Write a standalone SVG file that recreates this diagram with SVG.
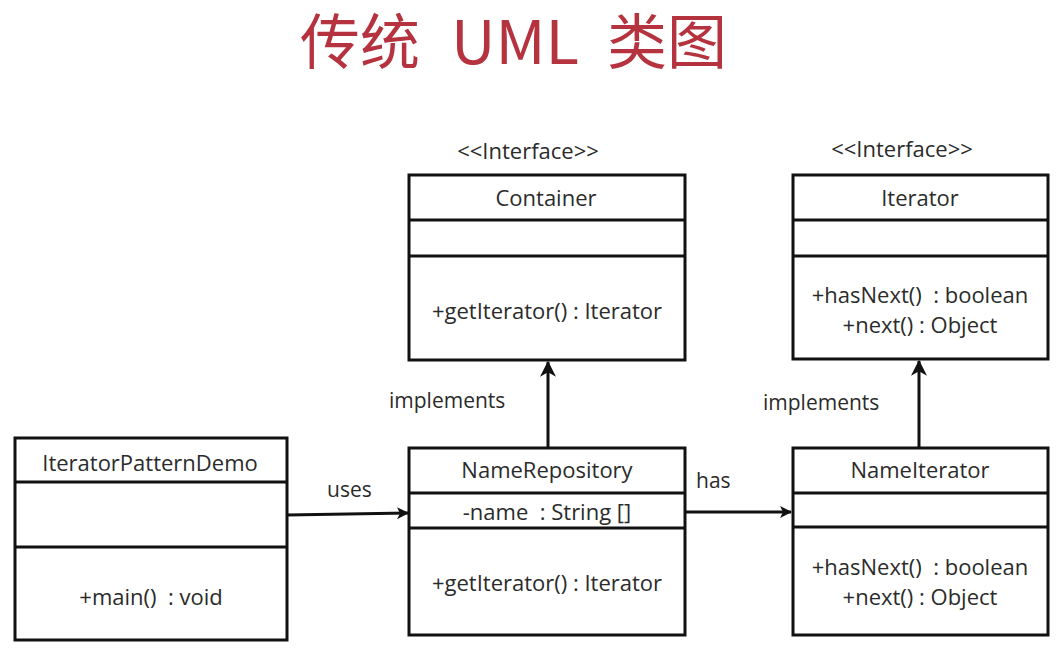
<svg xmlns="http://www.w3.org/2000/svg" width="1059" height="650" viewBox="0 0 1059 650">
<defs>
<style>
.box{fill:#fff;stroke:#111;stroke-width:3}
.div{stroke:#111;stroke-width:3}
.t{font-family:"Open Sans","Noto Sans",sans-serif;font-size:22px;fill:#2b2b2b;text-anchor:middle;white-space:pre}
.lbl{font-family:"Open Sans","Noto Sans",sans-serif;font-size:21px;fill:#2b2b2b}
.edge{stroke:#111;stroke-width:3;fill:none}
.title{font-family:"Noto Sans CJK SC","Noto Sans",sans-serif;font-size:60px;fill:#b5323f}
</style>
<marker id="arr" viewBox="0 0 12 12" refX="11" refY="6" markerWidth="12" markerHeight="12" markerUnits="userSpaceOnUse" orient="auto">
<path d="M0,0 L12,6 L0,12 L3,6 Z" fill="#111"/>
</marker>
<marker id="arrv" viewBox="0 0 14 14" refX="13" refY="7" markerWidth="16" markerHeight="16" markerUnits="userSpaceOnUse" orient="auto">
<path d="M0,0 L14,7 L0,14 L4,7 Z" fill="#111"/>
</marker>
</defs>
<rect width="1059" height="650" fill="#fff"/>
<g id="title">
<text class="title" x="300" y="64">传统</text>
<text class="title" x="451" y="64" textLength="128" lengthAdjust="spacingAndGlyphs">UML</text>
<text class="title" x="607" y="64">类图</text>
</g>

<g id="container">
<text class="t" x="528" y="159">&lt;&lt;Interface&gt;&gt;</text>
<rect class="box" x="409" y="175" width="276" height="185"/>
<line class="div" x1="409" y1="220" x2="685" y2="220"/>
<line class="div" x1="409" y1="256" x2="685" y2="256"/>
<text class="t" x="546" y="206">Container</text>
<text class="t" x="547" y="319">+getIterator() : Iterator</text>
</g>

<g id="iterator">
<text class="t" x="902" y="157">&lt;&lt;Interface&gt;&gt;</text>
<rect class="box" x="793" y="175" width="255" height="184"/>
<line class="div" x1="793" y1="220" x2="1048" y2="220"/>
<line class="div" x1="793" y1="256" x2="1048" y2="256"/>
<text class="t" x="920" y="206">Iterator</text>
<text class="t" x="920" y="303" xml:space="preserve">+hasNext()  : boolean</text>
<text class="t" x="920" y="333">+next() : Object</text>
</g>

<g id="iteratorPatternDemo">
<rect class="box" x="15" y="438" width="272" height="202"/>
<line class="div" x1="15" y1="482" x2="287" y2="482"/>
<line class="div" x1="15" y1="547" x2="287" y2="547"/>
<text class="t" x="150" y="471">IteratorPatternDemo</text>
<text class="t" x="151" y="605" xml:space="preserve">+main()  : void</text>
</g>

<g id="nameRepository">
<rect class="box" x="409" y="448" width="276" height="187"/>
<line class="div" x1="409" y1="493" x2="685" y2="493"/>
<line class="div" x1="409" y1="528" x2="685" y2="528"/>
<text class="t" x="547" y="478">NameRepository</text>
<text class="t" x="547" y="520" xml:space="preserve">-name  : String []</text>
<text class="t" x="547" y="591">+getIterator() : Iterator</text>
</g>

<g id="nameIterator">
<rect class="box" x="793" y="448" width="255" height="187"/>
<line class="div" x1="793" y1="493" x2="1048" y2="493"/>
<line class="div" x1="793" y1="527" x2="1048" y2="527"/>
<text class="t" x="920" y="478">NameIterator</text>
<text class="t" x="920" y="575" xml:space="preserve">+hasNext()  : boolean</text>
<text class="t" x="920" y="605">+next() : Object</text>
</g>

<g id="connectors">
<line class="edge" x1="287" y1="515" x2="408" y2="513" marker-end="url(#arr)"/>
<text class="lbl" x="327" y="497">uses</text>
<line class="edge" x1="685" y1="512" x2="791" y2="512" marker-end="url(#arr)"/>
<text class="lbl" x="696" y="488">has</text>
<line class="edge" x1="548" y1="448" x2="548" y2="362" marker-end="url(#arrv)"/>
<text class="lbl" x="389" y="408">implements</text>
<line class="edge" x1="919" y1="448" x2="919" y2="361" marker-end="url(#arrv)"/>
<text class="lbl" x="763" y="410">implements</text>
</g>
</svg>
